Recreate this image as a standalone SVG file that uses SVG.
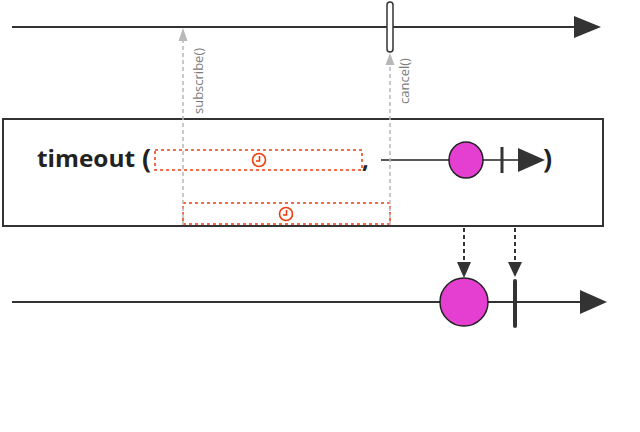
<svg xmlns="http://www.w3.org/2000/svg" width="640" height="432" viewBox="0 0 640 432">
<style>
.line{stroke:#333;stroke-width:2;fill:none}
.gray{stroke:#b8b8b8;stroke-width:1.5;stroke-dasharray:4 3;fill:none}
.red{stroke:#f03c0f;stroke-width:1.5;stroke-dasharray:3 3;fill:none}
.clock{stroke:#f03c0f;stroke-width:1.6;fill:none}
.dark{stroke:#333;stroke-width:2;stroke-dasharray:4 3;fill:none}
.lbl{font-family:"Open Sans","DejaVu Sans",sans-serif;font-size:13px;fill:#7a7a7a}
.big{font-family:"Open Sans","DejaVu Sans",sans-serif;font-size:24px;font-weight:bold;fill:#222}
.par{font-family:"Open Sans","DejaVu Sans",sans-serif;font-size:27px;font-weight:bold;fill:#222}
.mag{fill:#e43fd0;stroke:#222;stroke-width:1.5}
</style>
<rect width="640" height="432" fill="#fff"/>
<g id="top-timeline">
<line class="line" x1="12" y1="27" x2="578" y2="27"/>
<polygon points="574,16 601,27 574,38" fill="#333"/>
<rect x="387" y="2" width="6" height="50" rx="3" fill="#fff" stroke="#333" stroke-width="1.5"/>
</g>
<g id="operator-box">
<rect x="3" y="119" width="600" height="107" fill="#fff" stroke="#333" stroke-width="2"/>
<text class="big" x="37" y="167" textLength="98" lengthAdjust="spacingAndGlyphs">timeout</text>
<text class="par" x="142" y="168">(</text>
<rect class="red" x="155" y="150" width="207" height="20"/>
<circle class="clock" cx="259" cy="160" r="6.5"/>
<path class="clock" d="M259.5,156 V161 H256" stroke-width="1.2"/>
<text class="big" x="362" y="168">,</text>
<line x1="381" y1="160" x2="520" y2="160" stroke="#222" stroke-width="1.5"/>
<ellipse class="mag" cx="466" cy="160" rx="17" ry="18"/>
<line x1="502" y1="147" x2="502" y2="173" stroke="#333" stroke-width="3"/>
<polygon points="518,148 545,160 518,172" fill="#333"/>
<text class="par" x="543" y="168">)</text>
<rect class="red" x="183" y="203" width="207" height="21"/>
<circle class="clock" cx="286" cy="214" r="6.5"/>
<path class="clock" d="M286.5,210 V215 H283" stroke-width="1.2"/>
</g>
<g id="bottom-timeline">
<line class="line" x1="12" y1="302" x2="584" y2="302"/>
<polygon points="580,290 607,302 580,314" fill="#333"/>
<circle class="mag" cx="464" cy="302" r="24"/>
<line x1="515" y1="281" x2="515" y2="326" stroke="#333" stroke-width="4" stroke-linecap="round"/>
</g>
<g id="connectors">
<line class="gray" x1="183" y1="225" x2="183" y2="40"/>
<polygon points="178.5,41 183,28 187.5,41" fill="#b8b8b8"/>
<text class="lbl" transform="translate(203,114) rotate(-90)">subscribe()</text>
<line class="gray" x1="390" y1="225" x2="390" y2="64"/>
<polygon points="385.5,65 390,53 394.5,65" fill="#b8b8b8"/>
<text class="lbl" transform="translate(409,104) rotate(-90)">cancel()</text>
<line class="dark" x1="464" y1="228" x2="464" y2="262"/>
<polygon points="457,262 471,262 464,278" fill="#333"/>
<line class="dark" x1="515" y1="228" x2="515" y2="262"/>
<polygon points="508,262 522,262 515,277" fill="#333"/>
</g>
</svg>
